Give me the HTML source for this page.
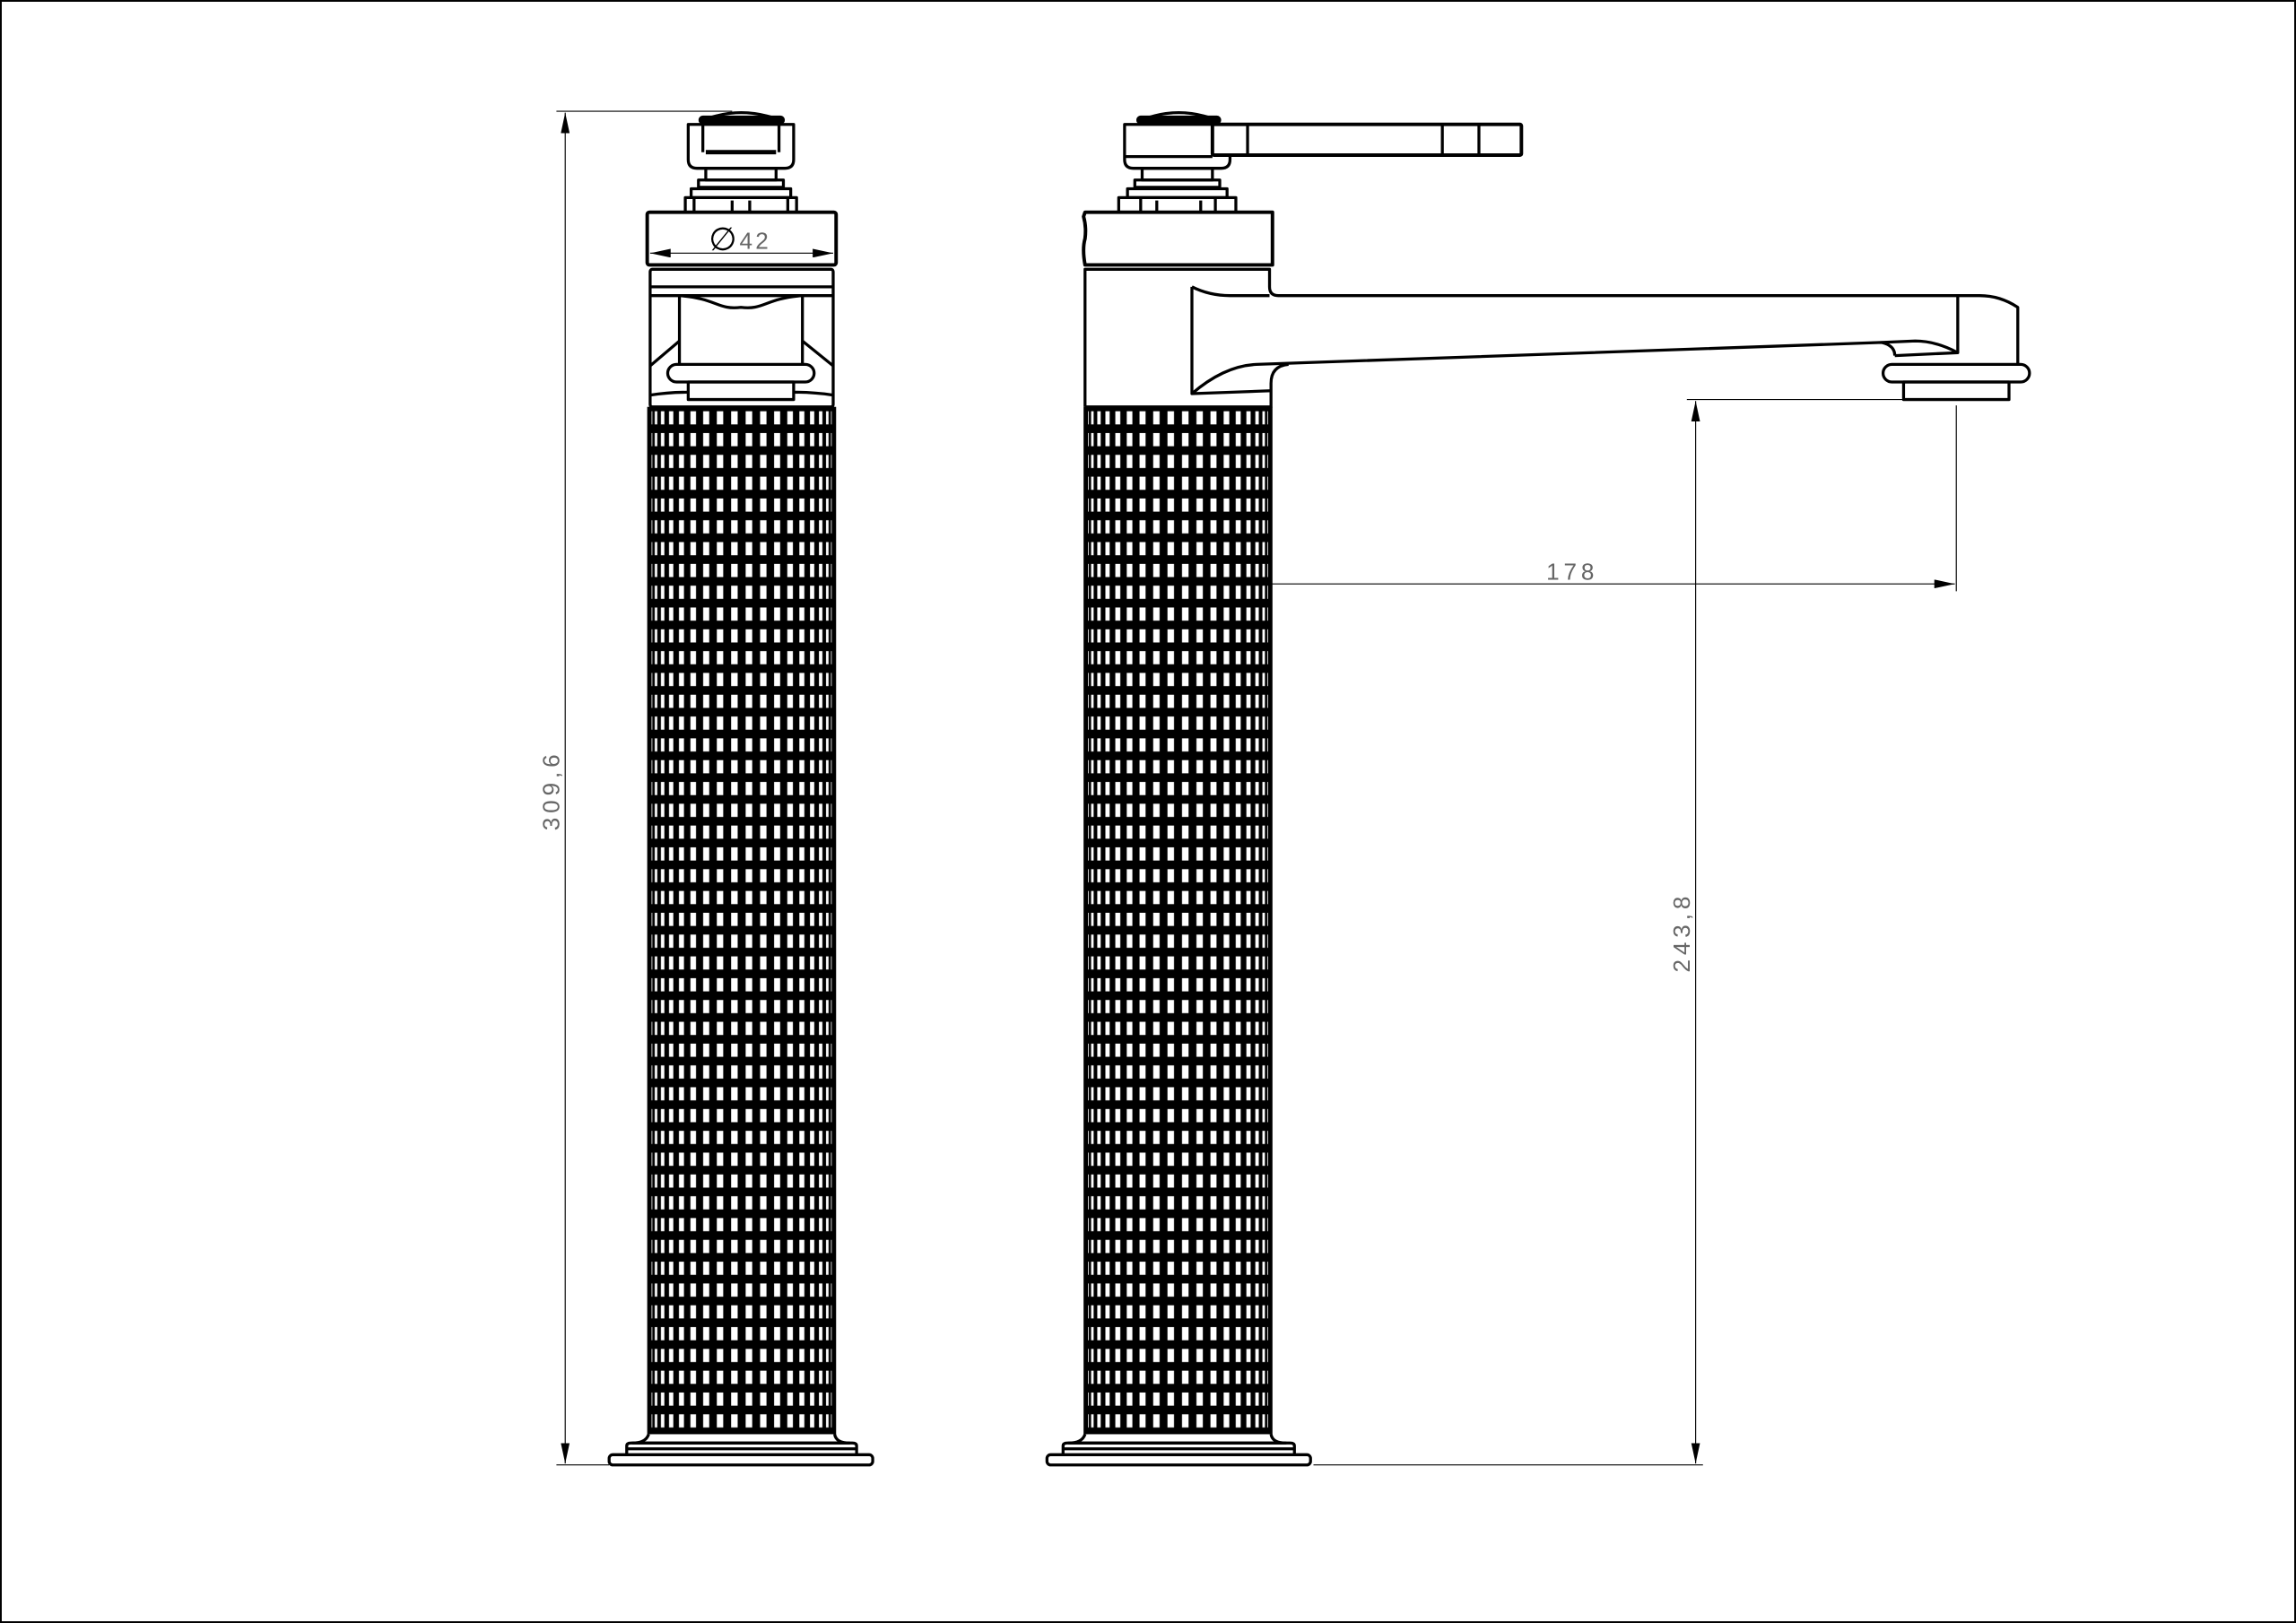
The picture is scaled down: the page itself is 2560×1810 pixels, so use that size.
<!DOCTYPE html>
<html><head><meta charset="utf-8"><style>
html,body{margin:0;padding:0;background:#fff}
svg{display:block}
</style></head><body>
<svg width="2560" height="1810" viewBox="0 0 1568 1109" preserveAspectRatio="none" xmlns="http://www.w3.org/2000/svg">
<defs>
<g id="row">
<rect x="0" y="0" width="127" height="14.9" fill="#000"/>
<g fill="#fff">
<rect x="1.43" y="3" width="1.05" height="9"/>
<rect x="4.16" y="3" width="1.71" height="9"/>
<rect x="8.36" y="3" width="2.34" height="9"/>
<rect x="13.91" y="3" width="2.91" height="9"/>
<rect x="20.68" y="3" width="3.41" height="9"/>
<rect x="28.5" y="3" width="3.83" height="9"/>
<rect x="37.21" y="3" width="4.14" height="9"/>
<rect x="46.55" y="3" width="4.36" height="9"/>
<rect x="56.3" y="3" width="4.47" height="9"/>
<rect x="66.23" y="3" width="4.47" height="9"/>
<rect x="76.09" y="3" width="4.36" height="9"/>
<rect x="85.65" y="3" width="4.14" height="9"/>
<rect x="94.67" y="3" width="3.83" height="9"/>
<rect x="102.91" y="3" width="3.41" height="9"/>
<rect x="110.18" y="3" width="2.91" height="9"/>
<rect x="116.3" y="3" width="2.34" height="9"/>
<rect x="121.13" y="3" width="1.71" height="9"/>
<rect x="124.52" y="3" width="1.05" height="9"/>
</g>
</g>
<pattern id="knL" patternUnits="userSpaceOnUse" x="443" y="278" width="127" height="14.9"><use href="#row"/></pattern>
<pattern id="knR" patternUnits="userSpaceOnUse" x="741" y="278" width="127" height="14.9"><use href="#row"/></pattern>
<marker id="ar" viewBox="0 0 14 6" refX="14" refY="3" markerWidth="14" markerHeight="6" markerUnits="userSpaceOnUse" orient="auto-start-reverse"><path d="M0,0 L14,3 L0,6 z" fill="#000"/></marker>
</defs>
<rect x="0.6" y="0.6" width="1566.8" height="1107.8" fill="#fff" stroke="#000" stroke-width="1.2"/>

<g fill="none" stroke="#000" stroke-width="2" stroke-linejoin="round">
<!-- LEFT VIEW -->
<path d="M478,83 Q506,71 535,83"/>
<rect x="478" y="80" width="57" height="4" fill="#000" rx="2"/>
<path d="M470,85 H542 V109 Q542,115 536,115 H476 Q470,115 470,109 Z"/>
<line x1="480" y1="85" x2="480" y2="104"/><line x1="532" y1="85" x2="532" y2="104"/>
<line x1="482" y1="104" x2="530" y2="104" stroke-width="3"/>
<rect x="482" y="115" width="48" height="8"/>
<rect x="477" y="123" width="58" height="5"/>
<rect x="472" y="129" width="68" height="6"/>
<rect x="468" y="135" width="76" height="10"/>
<line x1="474" y1="135" x2="474" y2="145"/><line x1="500" y1="137" x2="500" y2="145"/><line x1="512" y1="137" x2="512" y2="145"/><line x1="538" y1="135" x2="538" y2="145"/>
<rect x="442" y="145" width="129" height="36" rx="1.5" stroke-width="2.4"/>
<rect x="444" y="184" width="125" height="94" rx="1.5"/>
<line x1="444" y1="196" x2="569" y2="196"/>
<line x1="444" y1="202" x2="569" y2="202"/>
<path d="M464,202 V250 M548,202 V250"/>
<path d="M464,202 C490,204 490,212 506,210 C522,212 522,204 548,202"/>
<path d="M444,250 L464,233 M569,250 L548,233"/>
<rect x="456" y="249" width="100" height="12" rx="6" fill="#fff"/>
<rect x="470" y="261" width="72" height="12"/>
<path d="M444,270 Q456,268 470,268 M542,268 Q556,268 569,270"/>
<rect x="443" y="278" width="127" height="702" fill="url(#knL)" stroke="none"/>
<path d="M443.5,278 V980 M569.5,278 V980" stroke-width="3"/>
<path d="M443,980 Q441,986 432,986 H580 Q571,986 570,980"/>
<path d="M428,994 V988 Q428,986 431,986 H582 Q585,986 585,988 V994"/>
<line x1="428" y1="990" x2="585" y2="990"/>
<rect x="416" y="994" width="180" height="7" rx="2.5"/>

<!-- RIGHT VIEW -->
<path d="M777,83 Q805,71 833,83"/>
<rect x="777" y="80" width="56" height="4" fill="#000" rx="2"/>
<path d="M768,85 H840 V109 Q840,115 834,115 H774 Q768,115 768,109 Z"/>
<line x1="768" y1="107" x2="828" y2="107"/>
<rect x="828" y="85" width="211" height="21" rx="1" fill="#fff" stroke-width="2.4"/>
<line x1="852" y1="85" x2="852" y2="106"/><line x1="985" y1="85" x2="985" y2="106"/><line x1="1010" y1="85" x2="1010" y2="106"/>
<rect x="780" y="115" width="48" height="8"/>
<rect x="775" y="123" width="58" height="5"/>
<rect x="770" y="129" width="68" height="6"/>
<rect x="764" y="135" width="80" height="10"/>
<line x1="779" y1="135" x2="779" y2="145"/><line x1="790" y1="137" x2="790" y2="145"/><line x1="820" y1="137" x2="820" y2="145"/><line x1="830" y1="135" x2="830" y2="145"/>
<path d="M741,145 H869 V181 H741 Q739,170 741,163 Q742,155 740,148 Z" stroke-width="2.4"/>
<path d="M741,278 V184 H867 V196 Q867,202 873,202 H1352 Q1366,202 1378,210 V249"/>
<path d="M741,278 H868 V262 Q868,250 880,249"/>
<path d="M814,196 V269 L868,267"/>
<path d="M814,196 Q826,202 840,202 H867"/>
<path d="M814,269 Q836,250 858,249 L1285,234 Q1294,236 1294,243"/>
<path d="M1337,202 V241 L1294,243"/>
<path d="M1337,241 Q1322,233 1308,233 L1285,234"/>
<rect x="1286" y="249" width="100" height="12" rx="6" fill="#fff"/>
<rect x="1300" y="261" width="72" height="12"/>
<rect x="741" y="278" width="127" height="702" fill="url(#knR)" stroke="none"/>
<path d="M741.5,278 V980 M867.5,278 V980" stroke-width="3"/>
<path d="M741,980 Q739,986 730,986 H878 Q869,986 868,980"/>
<path d="M726,994 V988 Q726,986 729,986 H881 Q884,986 884,988 V994"/>
<line x1="726" y1="990" x2="884" y2="990"/>
<rect x="715" y="994" width="180" height="7" rx="2.5"/>
</g>

<g stroke="#000" stroke-width="0.7" fill="none">
<line x1="380" y1="76" x2="500" y2="76"/>
<line x1="380" y1="1001" x2="416" y2="1001"/>
<line x1="386" y1="77" x2="386" y2="1000" marker-start="url(#ar)" marker-end="url(#ar)"/>
<line x1="444" y1="173" x2="569" y2="173" marker-start="url(#ar)" marker-end="url(#ar)"/>
<line x1="1152" y1="273" x2="1300" y2="273"/>
<line x1="897" y1="1001" x2="1163" y2="1001"/>
<line x1="1158" y1="274" x2="1158" y2="1000" marker-start="url(#ar)" marker-end="url(#ar)"/>
<line x1="1336" y1="277" x2="1336" y2="404"/>
<line x1="868" y1="399" x2="1335" y2="399" marker-end="url(#ar)"/>
</g>
<g fill="#666" font-family="'Liberation Sans','DejaVu Sans',sans-serif" font-size="16">
<text x="484" y="171" font-size="22" fill="#000" font-family="'DejaVu Sans',sans-serif">∅</text>
<text x="505" y="170" letter-spacing="2">42</text>
<text x="1056" y="396" letter-spacing="3">178</text>
<text transform="translate(382,540) rotate(-90)" text-anchor="middle" letter-spacing="3">309,6</text>
<text transform="translate(1154,637) rotate(-90)" text-anchor="middle" letter-spacing="3">243,8</text>
</g>
</svg>
</body></html>
